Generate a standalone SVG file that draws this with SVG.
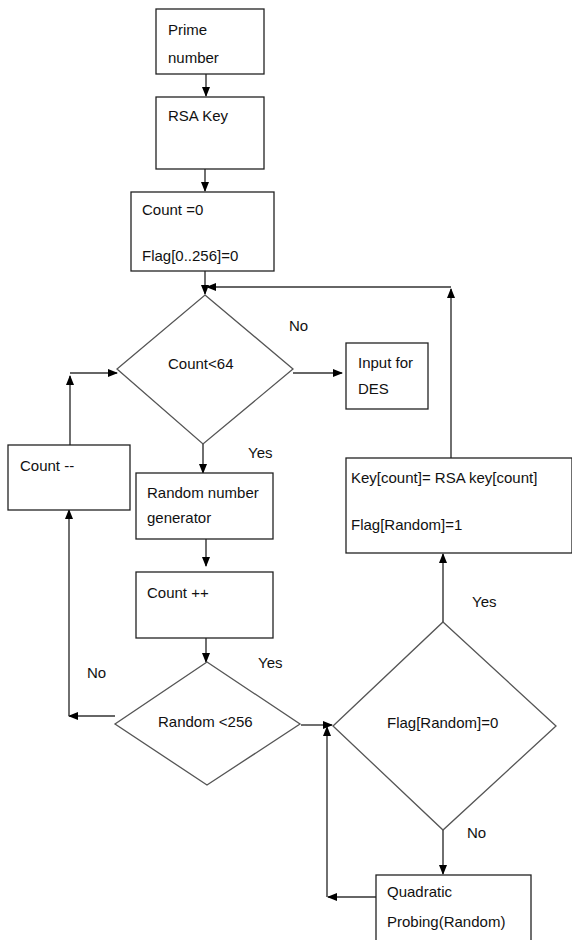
<svg xmlns="http://www.w3.org/2000/svg" width="572" height="940" viewBox="0 0 572 940">
<defs>
<marker id="ah" markerUnits="userSpaceOnUse" markerWidth="10" markerHeight="10" viewBox="0 0 10 10" refX="9" refY="5" orient="auto">
<path d="M0,1 L10,5 L0,9 Z" fill="#000"/>
</marker>
</defs>
<style>
.box{fill:#fff;stroke:#222;stroke-width:1.3}
.dia{fill:#fff;stroke:#555;stroke-width:1.3}
.t{font-family:"Liberation Sans",Arial,sans-serif;font-size:15px;fill:#111}
.c{fill:none;stroke:#333;stroke-width:1.4;marker-end:url(#ah)}
.cl{fill:none;stroke:#444;stroke-width:1.4}
</style>
<rect width="572" height="940" fill="#fff"/>
<g id="connectors">
<line class="c" x1="206" y1="74" x2="206" y2="96"/>
<line class="c" x1="205" y1="169" x2="205" y2="191"/>
<line class="c" x1="205" y1="271" x2="205" y2="294"/>
<line class="c" x1="451" y1="458" x2="451" y2="289"/>
<line class="c" x1="451" y1="287" x2="207" y2="287"/>
<line class="c" x1="293" y1="373" x2="342" y2="373"/>
<line class="c" x1="203" y1="444" x2="203" y2="473"/>
<line class="c" x1="206" y1="539" x2="206" y2="566"/>
<line class="c" x1="206" y1="638" x2="206" y2="662"/>
<line class="c" x1="115" y1="716" x2="69" y2="716"/>
<line class="c" x1="69" y1="716" x2="69" y2="510"/>
<line class="c" x1="70" y1="445" x2="70" y2="376"/>
<line class="c" x1="70" y1="373" x2="117" y2="373"/>
<line class="c" x1="301" y1="725" x2="332" y2="725"/>
<line class="c" x1="443" y1="622" x2="443" y2="554"/>
<line class="c" x1="443" y1="830" x2="443" y2="874"/>
<line class="c" x1="376" y1="897" x2="328" y2="897"/>
<line class="c" x1="327" y1="897" x2="327" y2="727"/>
</g>
<g id="prime"><rect class="box" x="156" y="9" width="108" height="65"/><text class="t" x="168" y="35">Prime</text><text class="t" x="168" y="63">number</text></g>
<g id="rsakey"><rect class="box" x="156" y="97" width="108" height="72"/><text class="t" x="168" y="121">RSA Key</text></g>
<g id="init"><rect class="box" x="131" y="192" width="143" height="79"/><text class="t" x="142" y="215">Count =0</text><text class="t" x="142" y="261">Flag[0..256]=0</text></g>
<g id="d1"><polygon class="dia" points="205,295 293,369 203,444 117,369"/><text class="t" x="168" y="369">Count&lt;64</text></g>
<g id="des"><rect class="box" x="346" y="343" width="82" height="66"/><text class="t" x="358" y="368">Input for</text><text class="t" x="358" y="394">DES</text></g>
<g id="labels"><text class="t" x="289" y="331">No</text><text class="t" x="248" y="458">Yes</text><text class="t" x="258" y="668">Yes</text><text class="t" x="87" y="678">No</text><text class="t" x="472" y="607">Yes</text><text class="t" x="467" y="838">No</text></g>
<g id="dec"><rect class="box" x="8" y="445" width="122" height="65"/><text class="t" x="20" y="471">Count --</text></g>
<g id="rng"><rect class="box" x="136" y="473" width="137" height="66"/><text class="t" x="147" y="498">Random number</text><text class="t" x="147" y="523">generator</text></g>
<g id="inc"><rect class="box" x="136" y="572" width="137" height="66"/><text class="t" x="147" y="598">Count ++</text></g>
<g id="d2"><polygon class="dia" points="207,662 300,724 207,785 115,724"/><text class="t" x="158" y="727">Random &lt;256</text></g>
<g id="keybox"><rect class="box" x="346" y="458" width="226" height="95"/><text class="t" x="351" y="483">Key[count]= RSA key[count]</text><text class="t" x="351" y="530">Flag[Random]=1</text></g>
<g id="d3"><polygon class="dia" points="443,622 556,726 443,830 333,726"/><text class="t" x="387" y="728">Flag[Random]=0</text></g>
<g id="quad"><rect class="box" x="376" y="875" width="155" height="80"/><text class="t" x="387" y="897">Quadratic</text><text class="t" x="387" y="927">Probing(Random)</text></g>
</svg>
